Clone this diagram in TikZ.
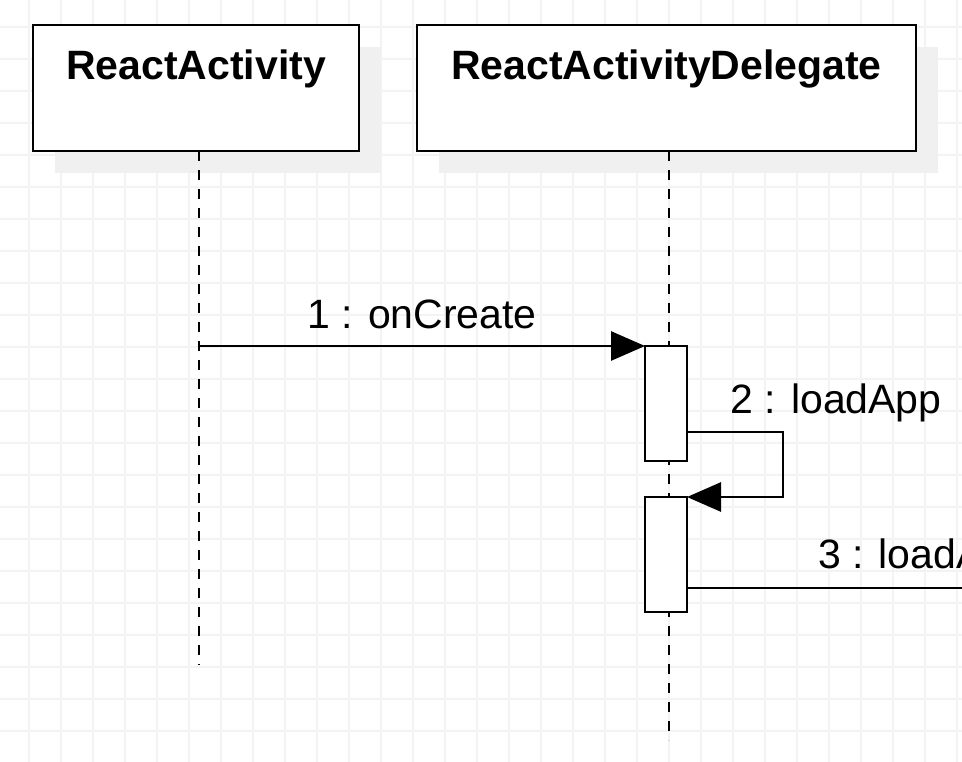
\documentclass[tikz,border=0pt]{standalone}
\usepackage{fontspec}
\setmainfont{Liberation Sans}
\usetikzlibrary{arrows.meta,shadows}
\definecolor{seqGrid}{HTML}{F3F3F3}
\definecolor{seqShade}{HTML}{F0F0F0}
\definecolor{seqInk}{HTML}{000000}
\tikzset{
  seq diagram/.style={
    color=seqInk, line width=2.8pt,
    >={Triangle[length=34pt,width=29pt]},
    every node/.style={font=\fontsize{41}{49}\selectfont,
      text=seqInk, inner sep=0pt, outer sep=0pt}
  },
  seq grid/.style={draw=seqGrid, line width=1.2pt},
  seq head/.style={draw=seqInk, fill=white, line width=2.8pt,
    minimum height=126pt, text height=30pt, text depth=46pt,
    font=\fontsize{41}{49}\selectfont\bfseries,
    general shadow={fill=seqShade, draw=none,
      shadow xshift=22pt, shadow yshift=-22pt}},
  seq life/.style={line width=2.8pt, dash pattern=on 10pt off 9pt},
  seq act/.style={draw=seqInk, fill=white, line width=2.8pt,
    minimum width=42pt, minimum height=115pt},
  seq msg/.style={->, line width=2.8pt}
}
\newcommand{\SeqDiagramGrid}{%
  \foreach \gx in {29,61,...,957} \draw[seq grid] (\gx,0) -- (\gx,762);
  \foreach \gy in {27,59,...,731} \draw[seq grid] (0,\gy) -- (962,\gy);
}

\begin{document}
\begin{tikzpicture}[seq diagram,x=1pt,y=-1pt]
    \useasboundingbox (0,0) rectangle (962,762);
    \clip (0,0) rectangle (962,762);
    \fill[white] (0,0) rectangle (962,762);
    \SeqDiagramGrid
    \node[seq head, minimum width=326pt] (ra) at (196,88) {ReactActivity};
    \node[seq head, minimum width=499pt] (rad) at (666.5,88) {ReactActivityDelegate};
    \coordinate (ra end) at (199,665);
    \coordinate (rad end) at (669,740);
    \draw[seq life] (ra end |- ra.south) -- (ra end);
    \draw[seq life] (rad end |- rad.south) -- (rad end);
    \node[seq act] (act1) at (666,403.5) {};
    \node[seq act] (act2) at (666,554.5) {};
    \draw[seq msg] (ra end |- act1.north) -- node[anchor=base, yshift=17pt] (lbl1) {1 : onCreate} (act1.north west);
    \draw[seq msg] ([yshift=-86pt]act1.north east) -- ++(96,0) |- (act2.north east);
    \node[anchor=base] (lbl2) at (836,413) {2 : loadApp};
    \coordinate (load out) at (1100,588);
    \draw[seq msg] (act2.east |- load out) -- (load out);
    \node[anchor=base west] (lbl3) at (818,568) {3 : loadA};
  \end{tikzpicture}
\end{document}
